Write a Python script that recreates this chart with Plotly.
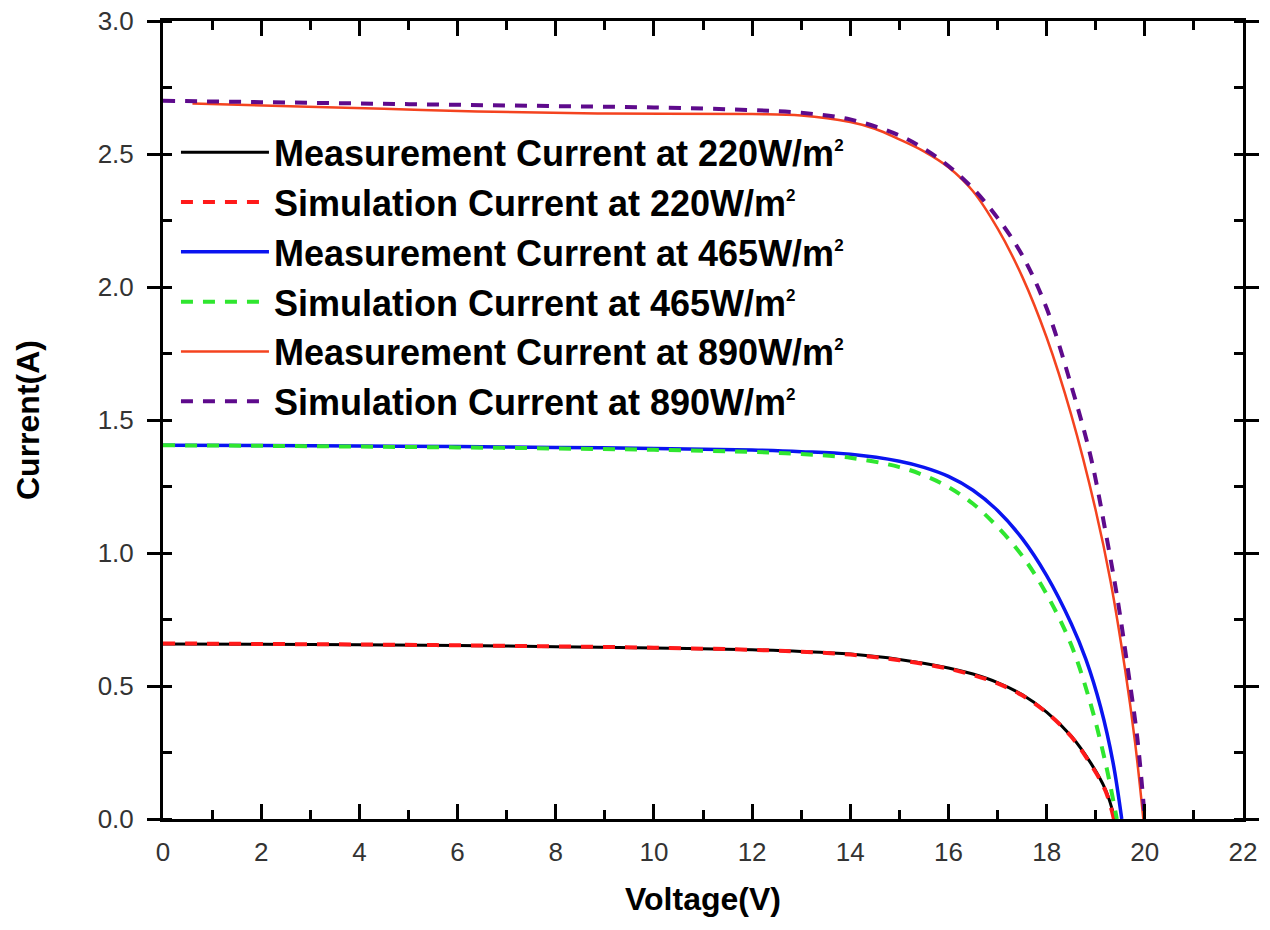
import plotly.graph_objects as go

# ---- data ----
v_meas_220 = [0, 2, 4, 6, 8, 10, 12, 13, 14, 15, 16, 16.5, 17, 17.5, 18, 18.5, 18.9, 19.2, 19.39]
i_meas_220 = [0.658, 0.657, 0.655, 0.652, 0.648, 0.643, 0.636, 0.630, 0.620, 0.600, 0.568, 0.545, 0.513, 0.468, 0.402, 0.312, 0.210, 0.110, 0.0]

v_sim_220 = [0, 2, 4, 6, 8, 10, 12, 13, 14, 15, 16, 16.5, 17, 17.5, 18, 18.5, 18.9, 19.2, 19.37]
i_sim_220 = [0.660, 0.658, 0.656, 0.653, 0.649, 0.644, 0.636, 0.629, 0.618, 0.597, 0.565, 0.541, 0.510, 0.465, 0.400, 0.310, 0.205, 0.105, 0.0]

v_meas_465 = [0, 2, 4, 6, 8, 10, 12, 13, 14, 15, 15.5, 16, 16.5, 17, 17.5, 18, 18.5, 18.8, 19.1, 19.35, 19.53]
i_meas_465 = [1.405, 1.404, 1.402, 1.400, 1.397, 1.393, 1.387, 1.381, 1.371, 1.345, 1.322, 1.288, 1.236, 1.160, 1.055, 0.915, 0.735, 0.600, 0.420, 0.215, 0.0]

v_sim_465 = [0, 2, 4, 6, 8, 10, 12, 13, 14, 15, 15.5, 16, 16.5, 17, 17.5, 18, 18.5, 18.9, 19.2, 19.43]
i_sim_465 = [1.405, 1.403, 1.400, 1.397, 1.393, 1.388, 1.380, 1.372, 1.358, 1.323, 1.292, 1.248, 1.185, 1.098, 0.990, 0.845, 0.655, 0.430, 0.210, 0.0]

v_meas_890 = [0.6, 2.4, 4.5, 6.4, 9, 12, 13, 14, 14.5, 15, 15.5, 16, 16.5, 17, 17.5, 18, 18.5, 19, 19.3, 19.6, 19.8, 19.97]
i_meas_890 = [2.690, 2.680, 2.670, 2.660, 2.652, 2.650, 2.645, 2.620, 2.595, 2.555, 2.510, 2.450, 2.360, 2.220, 2.040, 1.810, 1.520, 1.160, 0.896, 0.560, 0.290, 0.0]

v_sim_890 = [0, 2, 4, 6, 8, 10, 12, 13, 14, 15, 15.5, 16, 16.5, 17, 17.5, 18, 18.5, 18.9, 19.2, 19.45, 19.65, 19.85, 20.0]
i_sim_890 = [2.700, 2.695, 2.690, 2.685, 2.680, 2.675, 2.665, 2.655, 2.630, 2.570, 2.520, 2.455, 2.370, 2.260, 2.120, 1.920, 1.630, 1.360, 1.080, 0.820, 0.570, 0.300, 0.0]

SUP = "<sup><span style='font-size:17px'>2</span></sup>"
names = [
    "Measurement Current at 220W/m" + SUP,
    "Simulation Current at 220W/m" + SUP,
    "Measurement Current at 465W/m" + SUP,
    "Simulation Current at 465W/m" + SUP,
    "Measurement Current at 890W/m" + SUP,
    "Simulation Current at 890W/m" + SUP,
]

x_ticks = [0, 2, 4, 6, 8, 10, 12, 14, 16, 18, 20, 22]
y_ticks = [0.0, 0.5, 1.0, 1.5, 2.0, 2.5, 3.0]

series = [
    (v_meas_220, i_meas_220, "#000000", "solid", 3),
    (v_sim_220, i_sim_220, "#ff1a1a", "12px,10px", 4),
    (v_meas_465, i_meas_465, "#0a14f0", "solid", 3.5),
    (v_sim_465, i_sim_465, "#2fe62f", "12px,10px", 4),
    (v_meas_890, i_meas_890, "#f4431f", "solid", 2.5),
    (v_sim_890, i_sim_890, "#5e0a8c", "12px,10px", 4),
]

fig = go.Figure()
for (vx, iy, col, dash, w), nm in zip(series, names):
    fig.add_trace(go.Scatter(
        x=vx, y=iy, mode="lines", name=nm,
        line=dict(color=col, dash=dash, width=w, shape="spline", smoothing=1.0),
    ))

tickfont = dict(family="Arial", size=26, color="#333333")
titlefont = dict(family="Arial", size=32, color="#000000", weight="bold")

fig.update_layout(
    width=1270, height=930,
    margin=dict(l=163, r=27, t=21, b=111, autoexpand=False),
    paper_bgcolor="white", plot_bgcolor="white",
    showlegend=True,
    legend=dict(
        x=0.012, y=0.873, xanchor="left", yanchor="top",
        bgcolor="rgba(0,0,0,0)", borderwidth=0,
        font=dict(family="Arial", size=36, color="#000000", weight="bold"),
        itemwidth=88, tracegroupgap=0,
    ),
    xaxis=dict(
        range=[0, 22], tickvals=x_ticks, ticktext=[str(t) for t in x_ticks],
        ticks="inside", ticklen=15, tickwidth=3, tickcolor="black",
        minor=dict(dtick=1, tick0=0, ticks="inside", ticklen=9, tickwidth=3, tickcolor="black", showgrid=False),
        showline=True, linewidth=3, linecolor="black", mirror="ticks",
        showgrid=False, zeroline=False, automargin=False,
        tickfont=tickfont, ticklabelstandoff=8, ticklabeloverflow="allow",
        title=dict(text="Voltage(V)", font=titlefont, standoff=22),
    ),
    yaxis=dict(
        range=[0, 3], tickvals=y_ticks, ticktext=[f"{t:.1f}" for t in y_ticks],
        ticks="outside", ticklen=13, tickwidth=3, tickcolor="black",
        minor=dict(dtick=0.25, tick0=0, ticks="inside", ticklen=9, tickwidth=3, tickcolor="black", showgrid=False),
        showline=True, linewidth=3, linecolor="black", mirror="ticks",
        showgrid=False, zeroline=False, automargin=False,
        tickfont=tickfont, ticklabelstandoff=8, ticklabeloverflow="allow",
        title=dict(text="Current(A)", font=titlefont, standoff=49),
    ),
)

fig.write_html("out.html", config={"displayModeBar": False},
               post_script="document.body.style.margin='0';")
